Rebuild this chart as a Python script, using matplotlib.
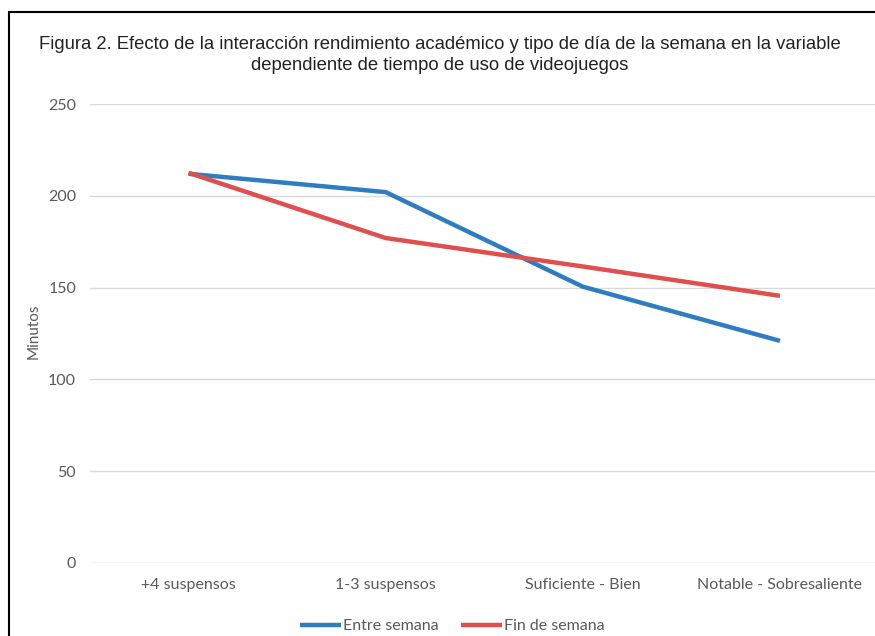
import matplotlib
matplotlib.use("Agg")
import matplotlib.pyplot as plt
from matplotlib.patches import Rectangle

categories = ["+4 suspensos", "1-3 suspensos", "Suficiente - Bien", "Notable - Sobresaliente"]
entre_semana = [212, 202, 150.5, 121]
fin_semana = [212.5, 177, 161.5, 145.5]
yticks = [0, 50, 100, 150, 200, 250]
title = ("Figura 2. Efecto de la interacción rendimiento académico y tipo de día de la semana en la variable\n"
         "dependiente de tiempo de uso de videojuegos")

W, H = 875, 636
fig = plt.figure(figsize=(W / 100, H / 100), dpi=100)
ax = fig.add_axes([90 / W, 1 - 563 / H, (W - 90) / W + 0.004, (563 - 104) / H])

x = list(range(len(categories)))
ax.plot(x, entre_semana, color="#2E7DC0", lw=3.2, solid_capstyle="butt", label="Entre semana", zorder=3)
ax.plot(x, fin_semana, color="#DF4F4E", lw=3.2, solid_capstyle="butt", label="Fin de semana", zorder=4)

ax.set_xlim(-0.5, len(categories) - 0.5)
ax.set_ylim(0, 250)
ax.set_yticks(yticks)
ax.set_xticks(x)
ax.set_xticklabels(categories)
ax.grid(axis="y", color="#D9D9D9", lw=1)
ax.set_axisbelow(True)
for s in ax.spines.values():
    s.set_visible(False)
ax.tick_params(axis="both", length=0, labelsize=11.5, colors="#595959", labelfontfamily="Lato")
ax.tick_params(axis="y", pad=10)
ax.tick_params(axis="x", pad=11)
ax.set_ylabel("Minutos", fontsize=11, color="#595959", fontfamily="Lato", va="center")
ax.yaxis.set_label_coords(-0.072, 0.505)

fig.text(440 / W, 1 - 55 / H, title, ha="center", va="center", fontsize=13.3,
         color="#222222", fontfamily="Liberation Sans", linespacing=1.25)

leg = fig.legend(loc="center", bbox_to_anchor=(452 / W, 1 - 626 / H), ncol=2, frameon=False,
                 handlelength=2.6, handletextpad=0.1, columnspacing=1.4,
                 prop={"family": "Lato", "size": 11.5})
for t in leg.get_texts():
    t.set_color("#595959")

fig.add_artist(Rectangle((9 / W, -0.1), 1.2, 1 - 12 / H + 0.1, fill=False, lw=1.5,
                         edgecolor="black", transform=fig.transFigure))

fig.savefig("out.png", dpi=100, facecolor="white")
